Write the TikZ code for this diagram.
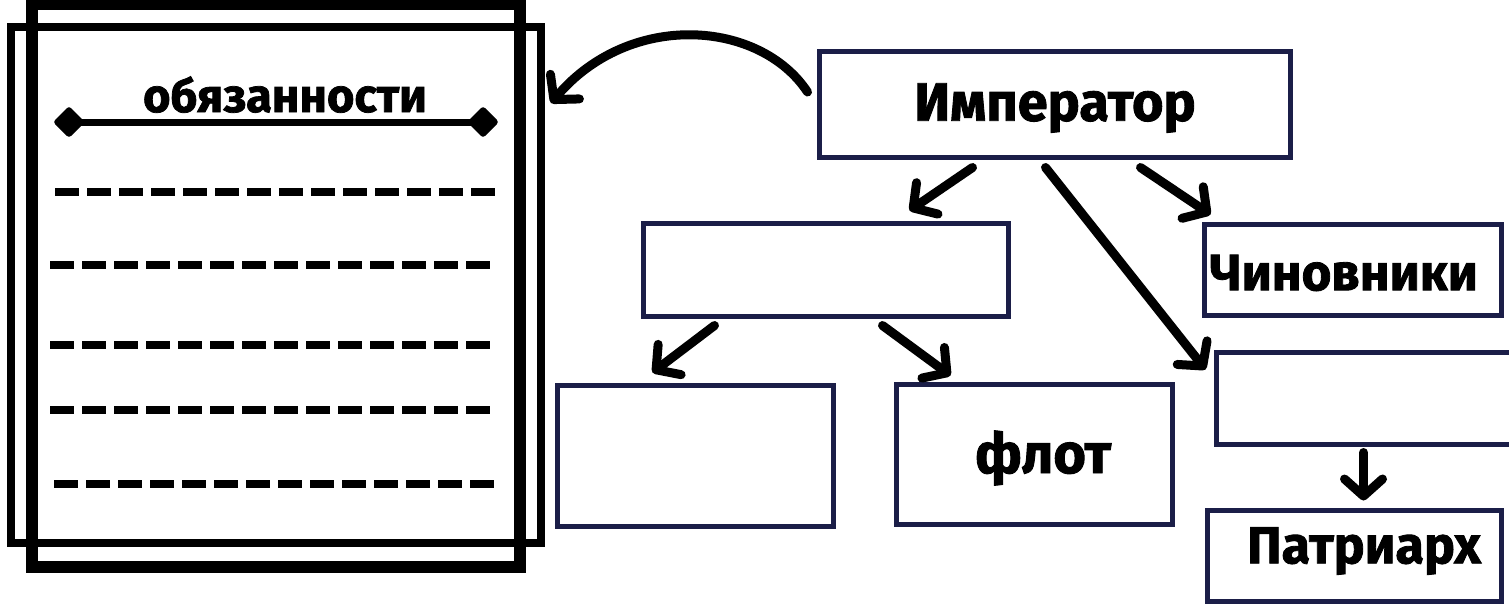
\documentclass[tikz,border=0pt]{standalone}
\usepackage{fontspec}
\setmainfont{Fira Sans}
\newfontfamily\heavy[FakeBold=1.6]{Fira Sans}[BoldFeatures={FakeBold=1.6}]
\usetikzlibrary{arrows.meta,calc}
\definecolor{boxc}{RGB}{27,30,72}
\begin{document}
\begin{tikzpicture}[x=1pt,y=-1pt,
  docbox/.style={draw=black,line width=8pt,rectangle,inner sep=0pt},
  orgbox/.style={draw=boxc,line width=5pt,rectangle,inner sep=0pt,fill=white},
  lbl/.style={font=\heavy\bfseries\fontsize{#1}{#1}\selectfont},
  conn/.style={line width=9pt,line cap=round,-{Straight Barb[length=17pt,width=38pt,line width=9pt,round]}},
  dashline/.style={line width=8pt,dash pattern=on 24pt off 8pt},
]
\useasboundingbox (0,0) rectangle (1509,606);
\fill[white] (0,0) rectangle (1509,606);
% document
\node[docbox,minimum width=484pt,minimum height=559pt] (docback) at (276,285.5) {};
\node[docbox,minimum width=530.5pt,minimum height=516pt] (doc) at (275.75,285) {};
\draw[line width=8pt] (docback.north west) rectangle (docback.south east);
\node[lbl=47pt,anchor=base] (duties) at (285,112) {обязанности};
\coordinate (dl) at (69,122);
\coordinate (dr) at (483,122);
\draw[line width=7pt] (dl) -- (dr);
\fill[rounded corners=3pt] ($(dl)+(-16,0)$) -- ($(dl)+(0,-16)$) -- ($(dl)+(16,0)$) -- ($(dl)+(0,16)$) -- cycle;
\fill[rounded corners=3pt] ($(dr)+(-16,0)$) -- ($(dr)+(0,-16)$) -- ($(dr)+(16,0)$) -- ($(dr)+(0,16)$) -- cycle;
\draw[dashline] (55,192) -- (495,192);
\draw[dashline] (50,265) -- (490,265);
\draw[dashline] (50,345) -- (490,345);
\draw[dashline] (50,410) -- (490,410);
\draw[dashline] (54,484) -- (495,484);
% org boxes
\node[orgbox,minimum width=471pt,minimum height=106pt] (imp) at (1054.5,104) {};
\node[lbl=54pt] at (1055,108) {Император};
\node[orgbox,minimum width=297pt,minimum height=91pt] (chin) at (1352.5,269.5) {};
\node[lbl=51pt] at (1344,273) {Чиновники};
\node[orgbox,minimum width=365pt,minimum height=93pt] (mid) at (825.5,269.5) {};
\node[orgbox,minimum width=296pt,minimum height=92pt] (rbox) at (1364,398) {};
\node[orgbox,minimum width=294pt,minimum height=91pt] (patr) at (1354,555.5) {};
\node[lbl=52pt] at (1364,551) {Патриарх};
\node[orgbox,minimum width=276pt,minimum height=141pt] (ebl) at (695,455.5) {};
\node[orgbox,minimum width=276pt,minimum height=140pt] (flot) at (1034,454) {};
\node[lbl=56pt] at (1043,458) {флот};
% connectors
\draw[conn] ($(imp.west)+(-9,-12)$) .. controls (760,20) and (630,10) .. ($(doc.north east)+(6,80)$);
\draw[conn] ($(imp.south west)+(156,8)$) -- ($(mid.north west)+(269,-10)$);
\draw[conn] ($(imp.south west)+(229,8)$) -- ($(rbox.north west)+(-8,20)$);
\draw[conn] ($(imp.south west)+(324,8)$) -- ($(chin.north west)+(9,-7)$);
\draw[conn] ($(mid.south west)+(74,7)$) -- ($(ebl.north west)+(98,-10)$);
\draw[conn] ($(mid.south west)+(242,7)$) -- ($(flot.north west)+(57,-6)$);
\draw[conn] ($(rbox.south west)+(150,6)$) -- ($(patr.north west)+(159,-7)$);
\end{tikzpicture}
\end{document}
